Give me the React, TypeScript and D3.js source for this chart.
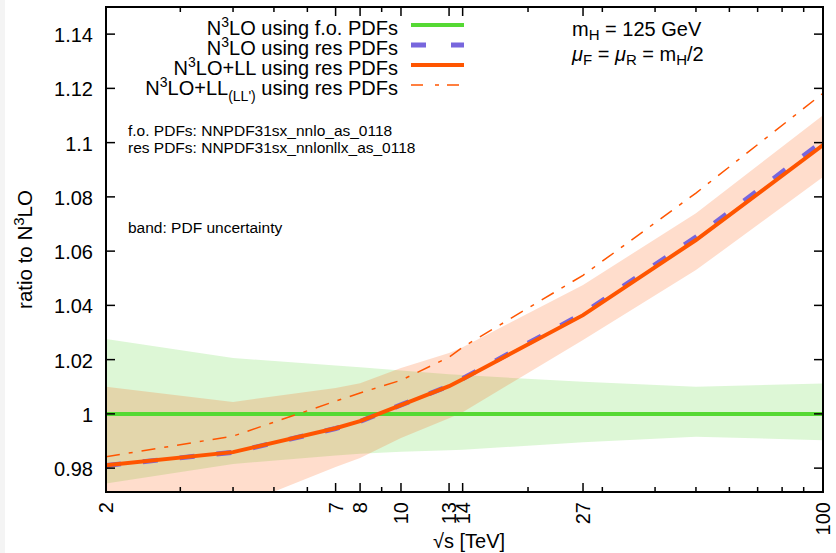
import React from 'react';
import * as d3 from 'd3';

const width = 836;
const height = 553;
const margin = { top: 7, right: 13, bottom: 61, left: 106 };

// sqrt(s) in TeV
const energies = [2, 4, 7, 8, 10, 13, 14, 27, 50, 100];

// N3LO using f.o. PDFs (ratio to itself) and its PDF band
const foCentral = [1, 1, 1, 1, 1, 1, 1, 1, 1, 1];
const foUpper = [1.0276, 1.0206, 1.0178, 1.0172, 1.016, 1.0146, 1.0143, 1.0118, 1.01, 1.0112];
const foLower = [0.9743, 0.9815, 0.9847, 0.9853, 0.986, 0.9866, 0.9868, 0.9895, 0.9916, 0.9903];

// res PDFs curves
const resN3LO = [0.981, 0.9858, 0.9946, 0.9972, 1.0033, 1.0103, 1.013, 1.037, 1.0652, 1.1005];
const resLL = [0.9811, 0.9859, 0.9947, 0.9973, 1.0032, 1.0102, 1.0128, 1.0364, 1.0641, 1.0991];
const resLLp = [0.9842, 0.9918, 1.0047, 1.0077, 1.0124, 1.0209, 1.0246, 1.0511, 1.0814, 1.1182];
const resUpper = [1.01, 1.0044, 1.0095, 1.0113, 1.0169, 1.0224, 1.0246, 1.0475, 1.074, 1.1101];
const resLower = [0.952, 0.9653, 0.9804, 0.9837, 0.9911, 0.9984, 1.0006, 1.0272, 1.053, 1.0873];

const xMajorTicks = [2, 7, 8, 10, 13, 14, 27, 100];
const xMinorTicks = [3, 4, 5, 6, 9, 20, 30, 40, 50, 60, 70, 80, 90];
const yTicks = [0.98, 1.0, 1.02, 1.04, 1.06, 1.08, 1.1, 1.12, 1.14];
const yTickLabels = ['0.98', '1', '1.02', '1.04', '1.06', '1.08', '1.1', '1.12', '1.14'];

const green = '#55d933';
const orange = '#ff5500';
const purple = '#7766dd';
const font = '"Liberation Sans", Arial, Helvetica, sans-serif';

const App = () => {
  const x0 = margin.left;
  const x1 = width - margin.right;
  const y0 = margin.top;
  const y1 = height - margin.bottom;

  const xScale = d3.scaleLog().domain([2, 100]).range([x0, x1]);
  const yScale = d3.scaleLinear().domain([0.9712, 1.15]).range([y1, y0]);

  const line = d3
    .line<number>()
    .x((_, i) => xScale(energies[i]))
    .y(d => yScale(d));

  const band = (lo: number[], hi: number[]) =>
    d3
      .area<number>()
      .x(d => xScale(d))
      .y0((_, i) => yScale(lo[i]))
      .y1((_, i) => yScale(hi[i]))(energies) || '';

  const legend = [
    { stroke: green, w: 4, dash: undefined },
    { stroke: purple, w: 5, dash: '15,25' },
    { stroke: orange, w: 4, dash: undefined },
    { stroke: orange, w: 1.5, dash: '12,12,4,8' },
  ];
  const legendY = [25, 45, 65, 85];

  return (
    <svg
      width={width}
      height={height}
      style={{ position: 'absolute', left: 0, top: 0, background: '#fff' }}
      fontFamily={font}
    >
      <rect x={0} y={0} width={5} height={height} fill="#f4f4f4" />
      <defs>
        <clipPath id="plot">
          <rect x={x0} y={y0} width={x1 - x0} height={y1 - y0} />
        </clipPath>
      </defs>

      <g clipPath="url(#plot)">
        <path d={band(foLower, foUpper)} fill={green} fillOpacity={0.2} />
        <path d={band(resLower, resUpper)} fill={orange} fillOpacity={0.2} />
        <path d={line(foCentral) || ''} fill="none" stroke={green} strokeWidth={4} />
        <path d={line(resN3LO) || ''} fill="none" stroke={purple} strokeWidth={5} strokeDasharray="15,22" />
        <path d={line(resLL) || ''} fill="none" stroke={orange} strokeWidth={4} />
        <path d={line(resLLp) || ''} fill="none" stroke={orange} strokeWidth={1.5} strokeDasharray="14,9,4,9" />
      </g>

      {/* ticks */}
      <g stroke="#000" strokeWidth={1.5}>
        {xMajorTicks.map(t => (
          <g key={'M' + t}>
            <line x1={xScale(t)} x2={xScale(t)} y1={y1} y2={y1 - 9} />
            <line x1={xScale(t)} x2={xScale(t)} y1={y0} y2={y0 + 9} />
          </g>
        ))}
        {xMinorTicks.map(t => (
          <g key={'m' + t}>
            <line x1={xScale(t)} x2={xScale(t)} y1={y1} y2={y1 - 5} />
            <line x1={xScale(t)} x2={xScale(t)} y1={y0} y2={y0 + 5} />
          </g>
        ))}
        {yTicks.map(t => (
          <g key={'y' + t}>
            <line x1={x0} x2={x0 + 9} y1={yScale(t)} y2={yScale(t)} />
            <line x1={x1} x2={x1 - 9} y1={yScale(t)} y2={yScale(t)} />
          </g>
        ))}
      </g>
      <rect x={x0} y={y0} width={x1 - x0} height={y1 - y0} fill="none" stroke="#000" strokeWidth={2} />

      {/* tick labels */}
      {yTicks.map((t, i) => (
        <text key={'yl' + t} x={93} y={yScale(t) + 8} textAnchor="end" fontSize={20}>
          {yTickLabels[i]}
        </text>
      ))}
      {xMajorTicks.map(t => (
        <text
          key={'xl' + t}
          transform={`translate(${xScale(t)},${y1 + 10}) rotate(-90)`}
          textAnchor="end"
          dy="0.36em"
          fontSize={20}
        >
          {t}
        </text>
      ))}

      {/* axis titles */}
      <text x={469} y={548} textAnchor="middle" fontSize={20}>
        √s [TeV]
      </text>
      <text transform={`translate(32,${(y0 + y1) / 2}) rotate(-90)`} textAnchor="middle" fontSize={20.5}>
        ratio to N<tspan dy={-8} fontSize={15}>3</tspan>
        <tspan dy={8}>LO</tspan>
      </text>

      {/* legend */}
      {legend.map((l, i) => (
        <line
          key={'lg' + i}
          x1={411}
          x2={464}
          y1={legendY[i]}
          y2={legendY[i]}
          stroke={l.stroke}
          strokeWidth={l.w}
          strokeDasharray={l.dash}
        />
      ))}
      <g fontSize={20} textAnchor="end">
        <text x={398} y={legendY[0] + 10}>
          N<tspan dy={-8} fontSize={14}>3</tspan>
          <tspan dy={8}>LO using f.o. PDFs</tspan>
        </text>
        <text x={398} y={legendY[1] + 10}>
          N<tspan dy={-8} fontSize={14}>3</tspan>
          <tspan dy={8}>LO using res PDFs</tspan>
        </text>
        <text x={398} y={legendY[2] + 10}>
          N<tspan dy={-8} fontSize={14}>3</tspan>
          <tspan dy={8}>LO+LL using res PDFs</tspan>
        </text>
        <text x={398} y={legendY[3] + 10}>
          N<tspan dy={-8} fontSize={14}>3</tspan>
          <tspan dy={8}>LO+LL</tspan>
          <tspan dy={6} fontSize={14}>(LL')</tspan>
          <tspan dy={-6}> using res PDFs</tspan>
        </text>
      </g>

      {/* notes */}
      <g fontSize={15.5}>
        <text x={128} y={136}>f.o. PDFs: NNPDF31sx_nnlo_as_0118</text>
        <text x={128} y={153}>res PDFs: NNPDF31sx_nnlonllx_as_0118</text>
        <text x={128} y={233}>band: PDF uncertainty</text>
      </g>
      <g fontSize={20}>
        <text x={572} y={36}>
          m<tspan dy={4} fontSize={15}>H</tspan>
          <tspan dy={-4}> = 125 GeV</tspan>
        </text>
        <text x={572} y={61}>
          <tspan fontStyle="italic">μ</tspan>
          <tspan dy={4} fontSize={15}>F</tspan>
          <tspan dy={-4}> = </tspan>
          <tspan fontStyle="italic">μ</tspan>
          <tspan dy={4} fontSize={15}>R</tspan>
          <tspan dy={-4}> = m</tspan>
          <tspan dy={4} fontSize={15}>H</tspan>
          <tspan dy={-4}>/2</tspan>
        </text>
      </g>
    </svg>
  );
};

export default App;
